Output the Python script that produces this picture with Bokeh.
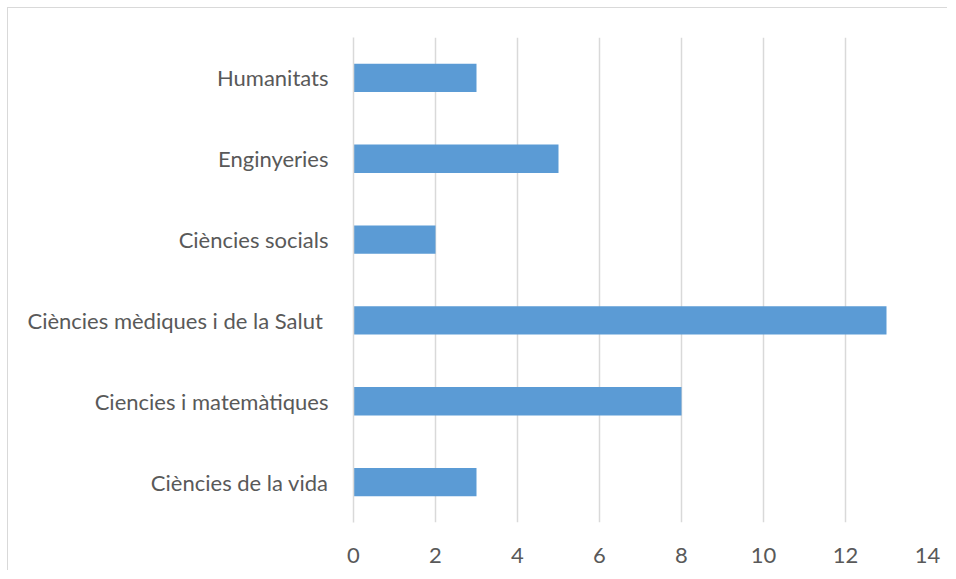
from bokeh.plotting import figure
from bokeh.embed import file_html
from bokeh.resources import INLINE
from bokeh.models import FixedTicker, Range1d, ColumnDataSource

categories = ["Ciències de la vida", "Ciencies i matemàtiques", "Ciències mèdiques i  de la Salut",
              "Ciències socials", "Enginyeries", "Humanitats"]
values = [3, 8, 13, 2, 5, 3]
x_ticks = [0, 2, 4, 6, 8, 10, 12, 14]

src = ColumnDataSource(dict(cat=categories, val=values))

p = figure(width=940, height=563, y_range=categories, x_range=Range1d(0, 14),
           output_backend="svg", toolbar_location=None,
           min_border_left=345, min_border_right=21, min_border_top=29, min_border_bottom=49)
p.margin = (7, 0, 0, 7)
p.styles = {"border-left": "1px solid #d9d9d9", "border-top": "1px solid #d9d9d9"}
p.outline_line_color = None
p.hbar(y="cat", right="val", left=0, height=0.35, source=src, fill_color="#5B9BD5", line_color=None)

p.y_range.range_padding = 0
p.xaxis.ticker = FixedTicker(ticks=x_ticks)
p.xaxis.axis_line_color = None
p.xaxis.major_tick_line_color = None
p.xaxis.minor_tick_line_color = None
p.xaxis.major_label_text_font = "Lato"
p.xaxis.major_label_text_font_size = "22px"
p.xaxis.major_label_text_color = "#595959"
p.xaxis.major_label_standoff = 19

p.yaxis.axis_line_color = "#d9d9d9"
p.yaxis.axis_line_width = 1.5
p.yaxis.major_tick_line_color = None
p.yaxis.minor_tick_line_color = None
p.yaxis.major_label_text_font = "Lato"
p.yaxis.major_label_text_font_size = "22px"
p.yaxis.major_label_text_color = "#595959"
p.yaxis.major_label_standoff = 19

p.xgrid.grid_line_color = "#d9d9d9"
p.xgrid.grid_line_width = 1.5
p.ygrid.grid_line_color = None

open("out.html", "w").write(file_html(p, INLINE))
